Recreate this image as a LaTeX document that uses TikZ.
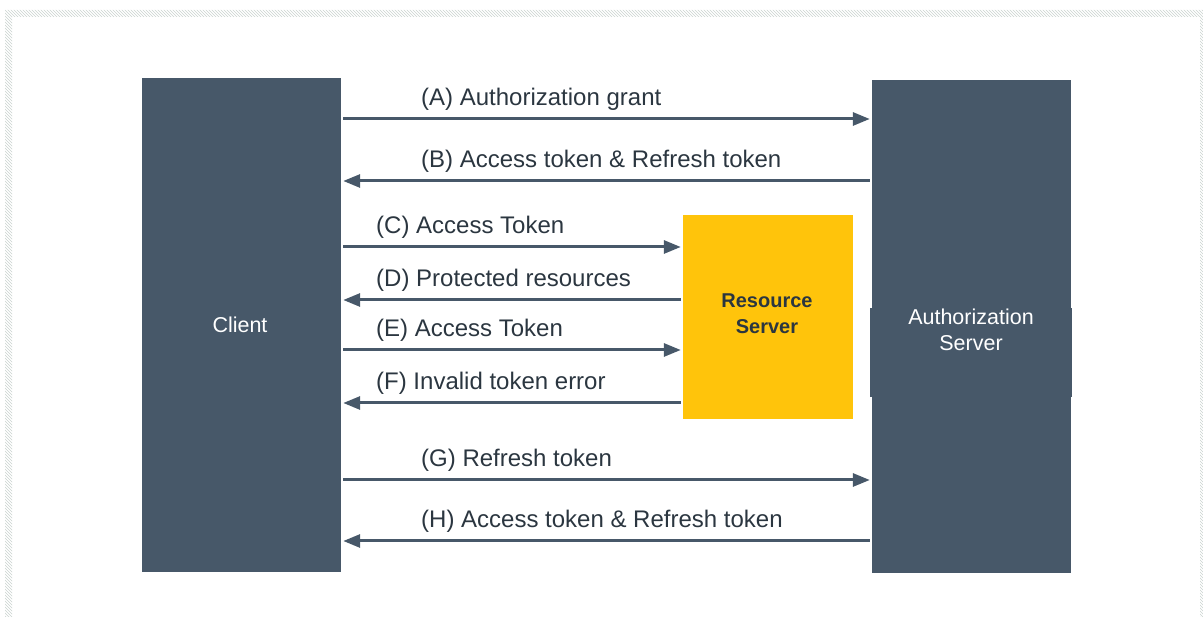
\documentclass[tikz,border=0pt]{standalone}
\usepackage{fontspec}
\setmainfont{Liberation Sans}
\usetikzlibrary{arrows.meta,patterns}
\definecolor{slate}{HTML}{475869}
\definecolor{gold}{HTML}{FFC40B}
\definecolor{ink}{HTML}{2B3640}
\definecolor{hatch}{HTML}{C9D3CF}
\tikzset{
  box/.style={rectangle, fill=slate, text=white, inner sep=0pt, align=center,
    font=\fontsize{21}{26}\selectfont},
  rsbox/.style={rectangle, fill=gold, text=ink, inner sep=0pt, align=center,
    font=\fontsize{21}{26}\selectfont},
  arr/.style={draw=slate, line width=3pt, -{Triangle[length=17pt,width=13pt]}},
  lbl/.style={anchor=base west, inner sep=0pt, text=ink, font=\fontsize{24}{28}\selectfont}
}
\begin{document}
\begin{tikzpicture}[x=1pt,y=-1pt]
\useasboundingbox (0,0) rectangle (1203,617);
% hatched frame
\fill[pattern=north west lines, pattern color=hatch, even odd rule]
  (5,10) rectangle (1203,640) (12,17) rectangle (1200,640);
% boxes
\node[box, minimum width=199pt, minimum height=494pt] (client) at (241.5,325) {};
\node[font=\fontsize{21.5}{26}\selectfont, text=white] (clientlbl) at (240,325) {Client};
\fill[slate] (870,308) rectangle (1072,397);
\node[box, minimum width=199pt, minimum height=493pt] (auth) at (971.5,326.5) {};
\node[font=\fontsize{21.5}{26}\selectfont, text=white, align=center] (authlbl) at (971,330) {Authorization\\Server};
\node[rsbox, minimum width=170pt, minimum height=204pt] (rs) at (768,317) {};
\node[font=\bfseries\fontsize{20}{26}\selectfont, text=ink, align=center] (rslbl) at (767,314) {Resource\\Server};
% arrows
\draw[arr, shorten <=2pt, shorten >=2pt] (client.east |- 0,119) -- (auth.west |- 0,119);
\draw[arr, shorten <=2pt, shorten >=2pt] (auth.west |- 0,181) -- (client.east |- 0,181);
\draw[arr, shorten <=2pt, shorten >=2pt] (client.east |- 0,247) -- (rs.west |- 0,247);
\draw[arr, shorten <=2pt, shorten >=2pt] (rs.west |- 0,300) -- (client.east |- 0,300);
\draw[arr, shorten <=2pt, shorten >=2pt] (client.east |- 0,350) -- (rs.west |- 0,350);
\draw[arr, shorten <=2pt, shorten >=2pt] (rs.west |- 0,403) -- (client.east |- 0,403);
\draw[arr, shorten <=2pt, shorten >=2pt] (client.east |- 0,480) -- (auth.west |- 0,480);
\draw[arr, shorten <=2pt, shorten >=2pt] (auth.west |- 0,541) -- (client.east |- 0,541);
% labels
\node[lbl] (la) at (421,106) {(A) Authorization grant};
\node[lbl] (lb) at (421,168) {(B) Access token \& Refresh token};
\node[lbl] (lc) at (376,234) {(C) Access Token};
\node[lbl] (ld) at (376,287) {(D) Protected resources};
\node[lbl] (le) at (376,337) {(E) Access Token};
\node[lbl] (lf) at (376,390) {(F) Invalid token error};
\node[lbl] (lg) at (421,467) {(G) Refresh token};
\node[lbl] (lh) at (421,528) {(H) Access token \& Refresh token};
\end{tikzpicture}
\end{document}
